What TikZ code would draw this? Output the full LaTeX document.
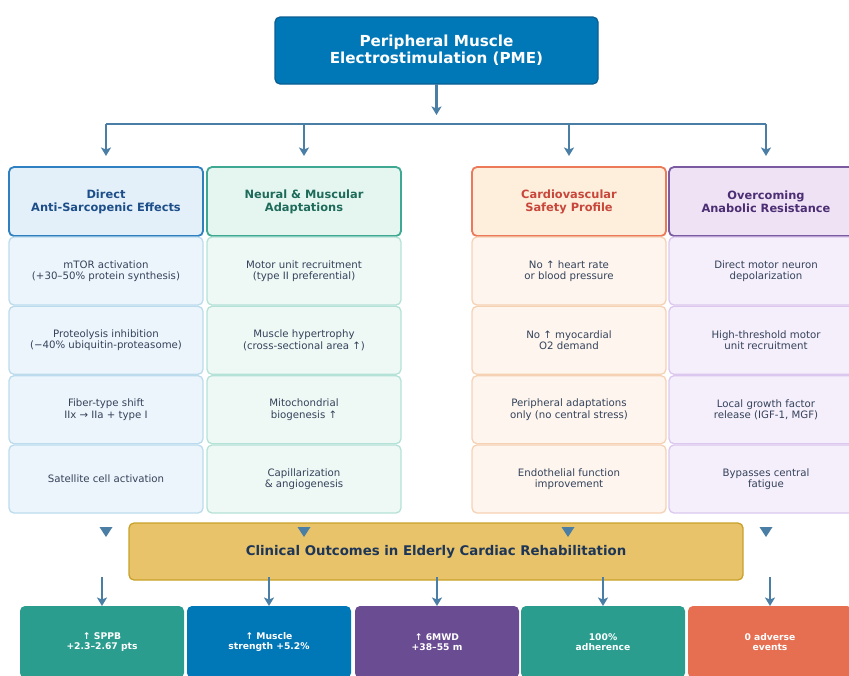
\documentclass[tikz,border=0pt]{standalone}
\usepackage{fontspec}
\setmainfont{DejaVu Sans}
\usetikzlibrary{arrows.meta}
\definecolor{pmeblue}{HTML}{0077B6}
\definecolor{pmeborder}{HTML}{0A5E92}
\definecolor{conn}{HTML}{4A7EA5}
\definecolor{celltxt}{HTML}{34425A}
\definecolor{aF}{HTML}{E3F0FA}\definecolor{aB}{HTML}{2F80C0}\definecolor{aT}{HTML}{1D4E89}
\definecolor{aCF}{HTML}{EDF5FC}\definecolor{aCB}{HTML}{BCDCEE}
\definecolor{bF}{HTML}{E5F6F1}\definecolor{bB}{HTML}{3FA893}\definecolor{bT}{HTML}{1E6B5A}
\definecolor{bCF}{HTML}{EEF8F5}\definecolor{bCB}{HTML}{B5E2D7}
\definecolor{cF}{HTML}{FDEFDC}\definecolor{cB}{HTML}{EA7A5A}\definecolor{cT}{HTML}{C8463A}
\definecolor{cCF}{HTML}{FDF5EE}\definecolor{cCB}{HTML}{F6D2B5}
\definecolor{dF}{HTML}{F0E2F5}\definecolor{dB}{HTML}{7A5AA0}\definecolor{dT}{HTML}{4B2E73}
\definecolor{dCF}{HTML}{F5EEFB}\definecolor{dCB}{HTML}{DCC8EF}
\definecolor{goldF}{HTML}{E8C36A}\definecolor{goldB}{HTML}{C9A12A}\definecolor{navy}{HTML}{1D3557}
\definecolor{oTeal}{HTML}{2A9D8F}\definecolor{oBlue}{HTML}{0077B6}
\definecolor{oPurple}{HTML}{6A4C93}\definecolor{oCoral}{HTML}{E76F51}
\newcommand\mytitlefont{\bfseries\fontsize{15.2}{17}\selectfont}
\newcommand\myhdrfont{\bfseries\fontsize{11.4}{13}\selectfont}
\newcommand\mycellfont{\fontsize{10.2}{11.3}\selectfont}
\newcommand\mygoldfont{\bfseries\fontsize{13.3}{15}\selectfont}
\newcommand\myoutfont{\bfseries\fontsize{9.2}{10.5}\selectfont}
\tikzset{
  basebox/.style={rounded corners=5pt, inner sep=0pt, outer sep=0pt, align=center, anchor=north west},
  hdr/.style={basebox, minimum width=194pt, minimum height=69pt, line width=1.8pt, font=\myhdrfont},
  cell/.style={basebox, minimum width=194pt, minimum height=68pt, line width=1.3pt, font=\mycellfont, text=celltxt},
  hA/.style={hdr, fill=aF, draw=aB, text=aT}, cA/.style={cell, fill=aCF, draw=aCB},
  hB/.style={hdr, fill=bF, draw=bB, text=bT}, cB/.style={cell, fill=bCF, draw=bCB},
  hC/.style={hdr, fill=cF, draw=cB, text=cT}, cC/.style={cell, fill=cCF, draw=cCB},
  hD/.style={hdr, fill=dF, draw=dB, text=dT}, cD/.style={cell, fill=dCF, draw=dCB},
  outbox/.style={basebox, minimum width=164pt, minimum height=72pt, font=\myoutfont, text=white},
  connline/.style={draw=conn, line width=2.4pt},
  arr/.style={connline, -{Stealth[length=8.5pt,width=10pt,inset=2pt]}},
  tri/.style={fill=conn, draw=none}
}
\begin{document}
\begin{tikzpicture}[x=1pt,y=-1pt]
\useasboundingbox (0,0) rectangle (849,675);
\clip (0,0) rectangle (849,675);
% title
\node[basebox, minimum width=323pt, minimum height=67pt, fill=pmeblue, draw=pmeborder, line width=1.2pt, text=white, font=\mytitlefont] (pme) at (275,17) {Peripheral Muscle\\Electrostimulation (PME)};
\coordinate (pmetip) at (436.5,115);
\draw[arr] (pme.south) -- (pmetip);
% bus
\coordinate (busL) at (106,124);
\coordinate (busR) at (766,124);
\coordinate (bus1) at (106,124);
\coordinate (bus2) at (304,124);
\coordinate (bus3) at (569,124);
\coordinate (bus4) at (766,124);
\draw[connline] (busL) -- (busR);
% column A
\node[hA] (hA) at (9,167) {Direct\\Anti-Sarcopenic Effects};
\node[cA] (a1) at (9,237) {mTOR activation\\(+30–50\% protein synthesis)};
\node[cA] (a2) at (9,306.3) {Proteolysis inhibition\\(−40\% ubiquitin-proteasome)};
\node[cA] (a3) at (9,375.7) {Fiber-type shift\\IIx → IIa + type I};
\node[cA] (a4) at (9,445) {Satellite cell activation};
% column B
\node[hB] (hB) at (207,167) {Neural \& Muscular\\Adaptations};
\node[cB] (b1) at (207,237) {Motor unit recruitment\\(type II preferential)};
\node[cB] (b2) at (207,306.3) {Muscle hypertrophy\\(cross-sectional area ↑)};
\node[cB] (b3) at (207,375.7) {Mitochondrial\\biogenesis ↑};
\node[cB] (b4) at (207,445) {Capillarization\\\& angiogenesis};
% column C
\node[hC] (hC) at (472,167) {Cardiovascular\\Safety Profile};
\node[cC] (c1) at (472,237) {No ↑ heart rate\\or blood pressure};
\node[cC] (c2) at (472,306.3) {No ↑ myocardial\\O2 demand};
\node[cC] (c3) at (472,375.7) {Peripheral adaptations\\only (no central stress)};
\node[cC] (c4) at (472,445) {Endothelial function\\improvement};
% column D
\node[hD] (hD) at (669,167) {Overcoming\\Anabolic Resistance};
\node[cD] (d1) at (669,237) {Direct motor neuron\\depolarization};
\node[cD] (d2) at (669,306.3) {High-threshold motor\\unit recruitment};
\node[cD] (d3) at (669,375.7) {Local growth factor\\release (IGF-1, MGF)};
\node[cD] (d4) at (669,445) {Bypasses central\\fatigue};
% arrows from bus to headers
\draw[arr] (bus1) -- ([yshift=11pt]hA.north);
\draw[arr] (bus2) -- ([yshift=11pt]hB.north);
\draw[arr] (bus3) -- ([yshift=11pt]hC.north);
\draw[arr] (bus4) -- ([yshift=11pt]hD.north);
% gold box
\node[basebox, minimum width=614pt, minimum height=57pt, fill=goldF, draw=goldB, line width=1.3pt, text=navy, font=\mygoldfont] (gold) at (129,523) {Clinical Outcomes in Elderly Cardiac Rehabilitation};
% triangles
\foreach \tx in {106,304,568,766}{
  \path[tri] (\tx-6.5,527) -- (\tx+6.5,527) -- (\tx,537) -- cycle;
}
% outcome boxes
\node[outbox, fill=oTeal] (o1) at (20,606) {↑ SPPB\\+2.3–2.67 pts};
\node[outbox, fill=oBlue] (o2) at (187,606) {↑ Muscle\\strength +5.2\%};
\node[outbox, fill=oPurple] (o3) at (355,606) {↑ 6MWD\\+38–55 m};
\node[outbox, fill=oTeal] (o4) at (521,606) {100\%\\adherence};
\node[outbox, fill=oCoral] (o5) at (688,606) {0 adverse\\events};
\coordinate (s1) at (102,577);
\coordinate (s2) at (269,577);
\coordinate (s3) at (437,577);
\coordinate (s4) at (603,577);
\coordinate (s5) at (770,577);
\draw[arr] (s1) -- (o1.north);
\draw[arr] (s2) -- (o2.north);
\draw[arr] (s3) -- (o3.north);
\draw[arr] (s4) -- (o4.north);
\draw[arr] (s5) -- (o5.north);
\end{tikzpicture}
\end{document}
